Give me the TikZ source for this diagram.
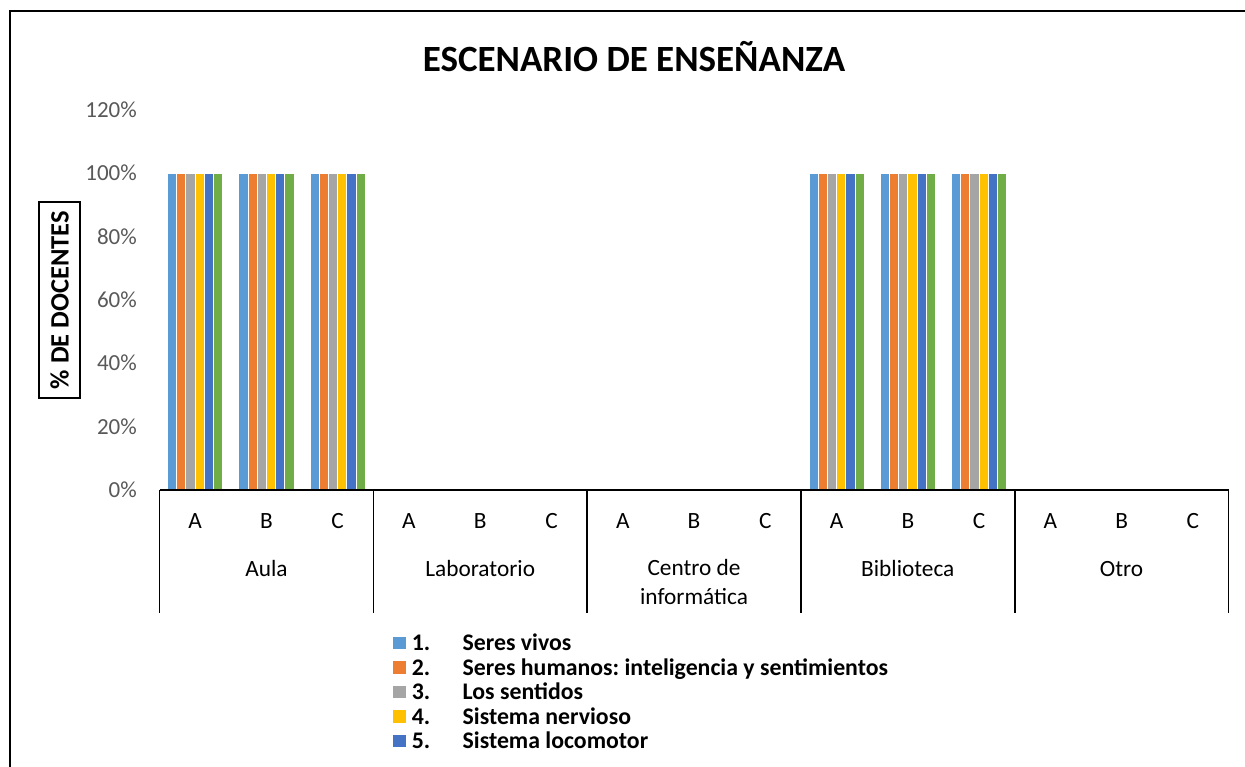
\documentclass[tikz,border=0pt]{standalone}
\usepackage{fontspec}
\setmainfont{Carlito}
\frenchspacing
\definecolor{sA}{HTML}{5B9BD5}
\definecolor{sB}{HTML}{ED7D31}
\definecolor{sC}{HTML}{A5A5A5}
\definecolor{sD}{HTML}{FFC000}
\definecolor{sE}{HTML}{4472C4}
\definecolor{sF}{HTML}{70AD47}
\definecolor{axisgray}{HTML}{595959}
\begin{document}
\begin{tikzpicture}[x=1pt,y=-1pt,
  ticklab/.style={anchor=base east, text=axisgray, font=\fontsize{23}{27}\selectfont, inner sep=0pt},
  catlab/.style={anchor=base, font=\fontsize{23.3}{27}\selectfont, inner sep=0pt},
  leglab/.style={anchor=base west, font=\fontsize{23.8}{26}\selectfont\bfseries, inner sep=0pt},
  legbox/.style={minimum size=12.5pt, inner sep=0pt, draw=none},
  bar/.style={draw=white, line width=0.9pt},
  sepline/.style={line width=1.6pt}]
\useasboundingbox (0,0) rectangle (1245,767);
\clip (0,0) rectangle (1245,767);
\fill[white] (0,0) rectangle (1245,767);
\draw[line width=2.2pt] (10,790) -- (10,11) -- (1270,11);

% title
\node[font=\fontsize{37}{42}\selectfont\bfseries] (title) at (634,57) {ESCENARIO DE ENSEÑANZA};

% y tick labels
\foreach \v [count=\i from 0] in {0,20,40,60,80,100,120} {
  \node[ticklab] (yt\i) at (137,{490-\i*63.33+7.6}) {\v\%};
}

% axis title
\node[draw, line width=1.5pt, rotate=90, minimum width=196pt, minimum height=41pt, inner sep=0pt,
      font=\fontsize{26.5}{30}\selectfont\bfseries] (ytitle) at (59.5,300) {\% DE DOCENTES};

% bars
\foreach \g in {0,3} {
  \foreach \c in {0,1,2} {
    \pgfmathsetmacro{\cx}{159.5+(\g*3+\c+0.5)*71.27}
    \foreach \col [count=\s from 0] in {sA,sB,sC,sD,sE,sF} {
      \fill[\col,bar] ({\cx-27.6+\s*9.2},173.3) rectangle ({\cx-27.6+(\s+1)*9.2},490);
    }
  }
}

% axis line and separators
\coordinate (ax0) at (159.5,490);
\coordinate (ax1) at (1228.5,490);
\draw[sepline] (ax0) -- (ax1);
\foreach \k in {0,...,5} {
  \coordinate (sT\k) at ({159.5+\k*213.8},490);
  \coordinate (sB\k) at ({159.5+\k*213.8},612.5);
  \draw[sepline] (sT\k) -- (sB\k);
}

% category letters
\foreach \g in {0,...,4} {
  \foreach \L [count=\c from 0] in {A,B,C} {
    \node[catlab] (cat\g\L) at ({159.5+(\g*3+\c+0.5)*71.27},528.5) {\L};
  }
}

% group names
\node[catlab] (gAula) at ({159.5+0.5*213.8},576.5) {Aula};
\node[catlab] (gLab) at ({159.5+1.5*213.8},576.5) {Laboratorio};
\node[catlab] (gCen1) at ({159.5+2.5*213.8},575.5) {Centro de};
\node[catlab] (gCen2) at ({159.5+2.5*213.8},604.5) {informática};
\node[catlab] (gBib) at ({159.5+3.5*213.8},576.5) {Biblioteca};
\node[catlab] (gOtro) at ({159.5+4.5*213.8},576.5) {Otro};

% legend
\foreach \col/\n/\t [count=\i from 0] in {sA/1./Seres vivos, sB/2./Seres humanos: inteligencia y sentimientos, sC/3./Los sentidos, sD/4./Sistema nervioso, sE/5./Sistema locomotor} {
  \node[legbox, fill=\col] (lb\i) at (399.3,{643+\i*24.5}) {};
  \node[leglab] (ln\i) at (411.7,{643+\i*24.5+7.6}) {\n};
  \node[leglab] (lt\i) at (462.5,{643+\i*24.5+7.6}) {\t};
}
\end{tikzpicture}
\end{document}
